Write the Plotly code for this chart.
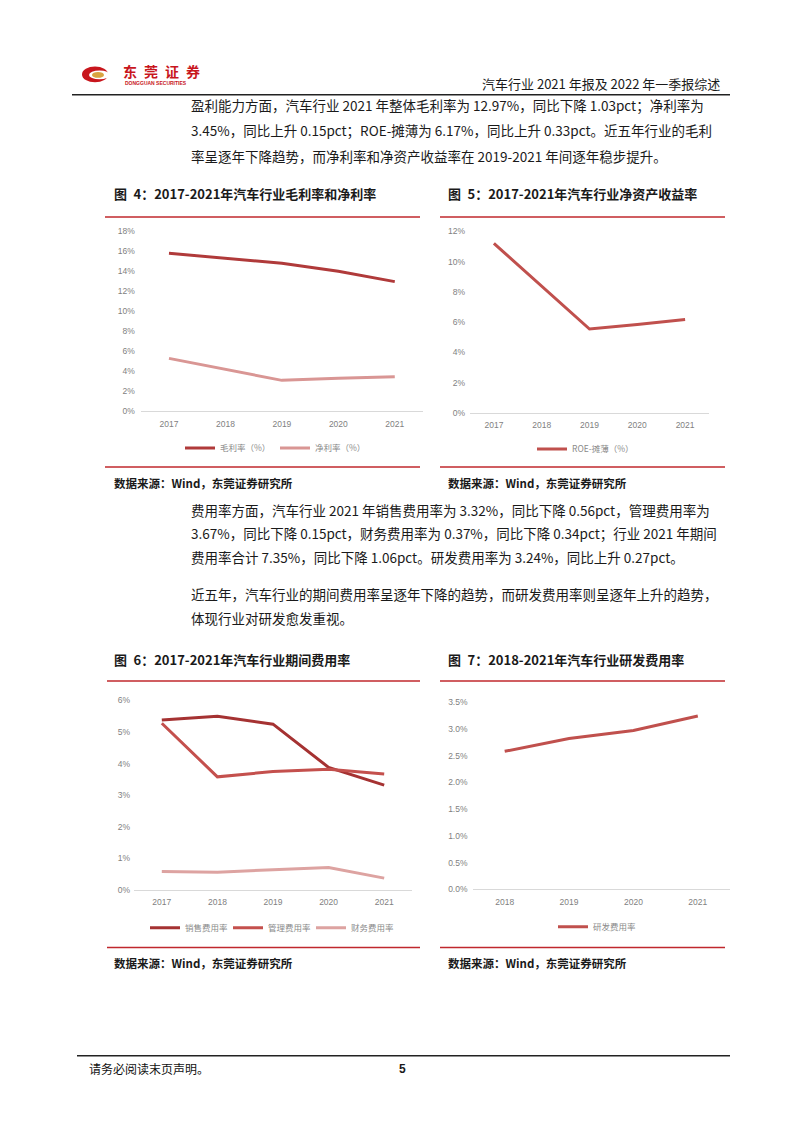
import plotly.graph_objects as go

W, H = 802, 1133


def fx(px):
    return px / W


def fy(py):
    return 1 - py / H


# ---------------- data ----------------
years5 = ["2017", "2018", "2019", "2020", "2021"]
years4 = ["2018", "2019", "2020", "2021"]

gross_margin = [15.8, 15.3, 14.8, 14.0, 12.97]
net_margin = [5.3, 4.2, 3.1, 3.3, 3.45]

roe_diluted = [11.2, 8.4, 5.55, 5.84, 6.17]

selling_exp = [5.38, 5.50, 5.25, 3.88, 3.32]
admin_exp = [5.28, 3.58, 3.75, 3.82, 3.67]
finance_exp = [0.58, 0.56, 0.64, 0.71, 0.37]

rd_exp = [2.58, 2.82, 2.97, 3.24]

# ---------------- styles ----------------
CJK = "Noto Sans CJK SC, Noto Sans, sans-serif"
TICK_FONT = dict(family="Liberation Sans Narrow, Liberation Sans, Arial, sans-serif", size=8.5, color="#7f7f7f")
LEG_FONT = dict(family=CJK, size=8.5, color="#8a8a8a")
RED = "#c0282d"

fig = go.Figure()

# chart 4
fig.add_trace(go.Scatter(x=years5, y=gross_margin, name="毛利率（%）", mode="lines",
                         line=dict(color="#b03a3a", width=3), xaxis="x", yaxis="y", legend="legend"))
fig.add_trace(go.Scatter(x=years5, y=net_margin, name="净利率（%）", mode="lines",
                         line=dict(color="#d99694", width=3), xaxis="x", yaxis="y", legend="legend"))
# chart 5
fig.add_trace(go.Scatter(x=years5, y=roe_diluted, name="ROE-摊薄（%）", mode="lines",
                         line=dict(color="#c0504d", width=3), xaxis="x2", yaxis="y2", legend="legend2"))
# chart 6
fig.add_trace(go.Scatter(x=years5, y=selling_exp, name="销售费用率", mode="lines",
                         line=dict(color="#a53232", width=3), xaxis="x3", yaxis="y3", legend="legend3"))
fig.add_trace(go.Scatter(x=years5, y=admin_exp, name="管理费用率", mode="lines",
                         line=dict(color="#c4504d", width=3), xaxis="x3", yaxis="y3", legend="legend3"))
fig.add_trace(go.Scatter(x=years5, y=finance_exp, name="财务费用率", mode="lines",
                         line=dict(color="#dda3a1", width=3), xaxis="x3", yaxis="y3", legend="legend3"))
# chart 7
fig.add_trace(go.Scatter(x=years4, y=rd_exp, name="研发费用率", mode="lines",
                         line=dict(color="#c0504d", width=3), xaxis="x4", yaxis="y4", legend="legend4"))


def xax(x0, x1, n):
    return dict(domain=[fx(x0), fx(x1)], type="category", range=[-0.5, n - 0.5],
                showline=True, linecolor="#d9d9d9", linewidth=1, ticks="",
                showgrid=False, zeroline=False, tickfont=TICK_FONT, fixedrange=True,
                ticklabelstandoff=4)


def yax(y0, y1, rmax, dtick, fmt, anchor, standoff):
    return dict(domain=[fy(y0), fy(y1)], range=[0, rmax], dtick=dtick, tickformat=fmt,
                ticksuffix="%", showgrid=False, zeroline=False, showline=False, ticks="",
                tickfont=TICK_FONT, anchor=anchor, fixedrange=True, ticklabelstandoff=standoff)


def legend(x, y, ew):
    return dict(orientation="h", x=fx(x), y=fy(y), xanchor="left", yanchor="middle",
                font=LEG_FONT, bgcolor="rgba(0,0,0,0)", entrywidth=ew, entrywidthmode="pixels",
                itemwidth=30, tracegroupgap=0)


layout = dict(
    width=W, height=H, margin=dict(l=0, r=0, t=0, b=0),
    paper_bgcolor="white", plot_bgcolor="white",
    xaxis=dict(xax(140.75, 423, 5), anchor="y"),
    yaxis=yax(410, 228.3, 18, 2, "d", "x", 5),
    xaxis2=dict(xax(470, 709, 5), anchor="y2"),
    yaxis2=yax(411.7, 228.3, 12, 2, "d", "x2", 4),
    xaxis3=dict(xax(134, 412, 5), anchor="y3"),
    yaxis3=yax(892.7, 701.7, 6, 1, "d", "x3", 3),
    xaxis4=dict(xax(472.5, 730, 4), anchor="y4"),
    yaxis4=yax(892.3, 703.3, 3.5, 0.5, ".1f", "x4", 4),
    legend=legend(180, 447, 50),
    legend2=legend(532, 448, 70),
    legend3=legend(145, 931, 38),
    legend4=legend(553, 930, 60),
    showlegend=True,
)
fig.update_layout(**layout)

# ---------------- decorations ----------------
shapes = []


def hline(x0, x1, y, color, w):
    shapes.append(dict(type="line", xref="paper", yref="paper", x0=fx(x0), x1=fx(x1),
                       y0=fy(y), y1=fy(y), line=dict(color=color, width=w)))


hline(72, 730, 90.5, "#222222", 1.5)
hline(105, 420, 214, RED, 1.5)
hline(440, 725, 214, RED, 1.5)
hline(105, 420, 466, RED, 1.5)
hline(440, 725, 466, RED, 1.5)
hline(107, 420, 682, RED, 1.5)
hline(440, 725, 682, RED, 1.5)
hline(107, 420, 951, RED, 1.5)
hline(440, 725, 951, RED, 1.5)
hline(77, 730, 1060, "#222222", 1.5)

# logo
shapes.append(dict(type="circle", xref="paper", yref="paper", x0=fx(82), x1=fx(108),
                   y0=fy(78), y1=fy(62), fillcolor="#c8161d", line=dict(width=0)))
shapes.append(dict(type="circle", xref="paper", yref="paper", x0=fx(89), x1=fx(110),
                   y0=fy(75), y1=fy(66), fillcolor="white", line=dict(width=0)))
shapes.append(dict(type="circle", xref="paper", yref="paper", x0=fx(92), x1=fx(104),
                   y0=fy(73.5), y1=fy(67.5), fillcolor="#d9a441", line=dict(width=0)))
fig.update_layout(shapes=shapes)

ann = []


def text(x, y, s, size=13.5, color="#1a1a1a", bold=False, family=CJK, xanchor="left"):
    ann.append(dict(xref="paper", yref="paper", x=fx(x), y=fy(y), text=(f"<b>{s}</b>" if bold else s),
                    showarrow=False, xanchor=xanchor, yanchor="middle",
                    font=dict(family=family, size=size, color=color)))


text(121, 67, "东\u2002莞\u2002证\u2002券", size=14, color="#c8161d", bold=True)
text(123, 78.5, "DONGGUAN SECURITIES", size=5, color="#c8161d", bold=True, family="Liberation Sans, Arial")
text(722, 79, "汽车行业 2021 年报及 2022 年一季报综述", size=13, xanchor="right")

p1 = [
    "盈利能力方面，汽车行业 2021 年整体毛利率为 12.97%，同比下降 1.03pct；净利率为",
    "3.45%，同比上升 0.15pct；ROE-摊薄为 6.17%，同比上升 0.33pct。近五年行业的毛利",
    "率呈逐年下降趋势，而净利率和净资产收益率在 2019-2021 年间逐年稳步提升。",
]
for i, s in enumerate(p1):
    text(189, 101 + 25.5 * i, s)

p2 = [
    "费用率方面，汽车行业 2021 年销售费用率为 3.32%，同比下降 0.56pct，管理费用率为",
    "3.67%，同比下降 0.15pct，财务费用率为 0.37%，同比下降 0.34pct；行业 2021 年期间",
    "费用率合计 7.35%，同比下降 1.06pct。研发费用率为 3.24%，同比上升 0.27pct。",
]
for i, s in enumerate(p2):
    text(189, 509 + 24 * i, s)

p3 = [
    "近五年，汽车行业的期间费用率呈逐年下降的趋势，而研发费用率则呈逐年上升的趋势，",
    "体现行业对研发愈发重视。",
]
for i, s in enumerate(p3):
    text(189, 594 + 24 * i, s)

text(112, 190, "图\u20024：2017-2021年汽车行业毛利率和净利率", size=13, bold=True)
text(446, 190, "图\u20025：2017-2021年汽车行业净资产收益率", size=13, bold=True)
text(112, 660, "图\u20026：2017-2021年汽车行业期间费用率", size=13, bold=True)
text(446, 660, "图\u20027：2018-2021年汽车行业研发费用率", size=13, bold=True)

for (x, y) in [(112, 482), (446, 482), (112, 967), (446, 967)]:
    text(x, y, "数据来源：Wind，东莞证券研究所", size=11.5, bold=True)

text(87, 1073, "请务必阅读末页声明。", size=12, color="#111111")
text(403, 1073, "5", size=12, bold=True, family="Liberation Sans, Arial", xanchor="center")

fig.update_layout(annotations=ann)

fig.write_html("out.html")
